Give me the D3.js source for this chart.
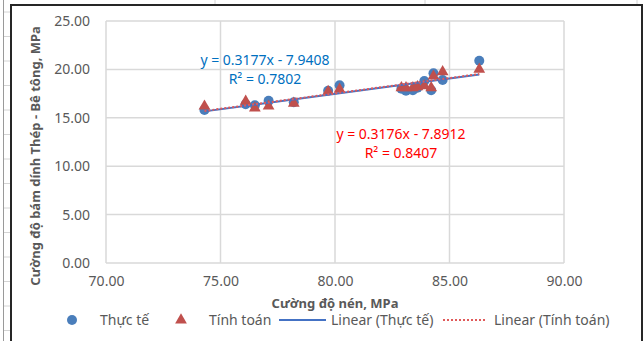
<!DOCTYPE html>
<html>
<head>
<meta charset="utf-8">
<script src="https://cdn.jsdelivr.net/npm/d3@7"></script>
<style>
  body { margin: 0; background: #fff; }
  svg { display: block; font-family: 'Noto Sans', 'Open Sans', sans-serif; }
</style>
</head>
<body>
<div id="chart"></div>
<script>
// compressive strength (x) shared by both series
const cuongDoNen = [74.3, 76.1, 76.5, 77.1, 78.2, 79.7, 80.2, 82.9, 83.1, 83.4, 83.6, 83.9, 84.2, 84.3, 84.7, 86.3];
const thucTe   = [15.8, 16.4, 16.3, 16.75, 16.6, 17.8, 18.35, 18.0, 17.8, 17.85, 18.1, 18.8, 17.85, 19.6, 18.9, 20.9];
const tinhToan = [16.2, 16.7, 16.0, 16.2, 16.5, 17.7, 17.95, 18.1, 18.1, 18.1, 18.2, 18.3, 18.1, 19.3, 19.75, 20.0];

// trendline coefficients shown on the chart [slope, intercept, r2]
const fitThucTe = [0.3177, -7.9408, 0.7802];
const fitTinhToan = [0.3176, -7.8912, 0.8407];

const xTicks = [70, 75, 80, 85, 90];
const yTicks = [0, 5, 10, 15, 20, 25];

const W = 643, H = 341;
const margin = { top: 21, right: 79, bottom: 78, left: 106 };
const width = W - margin.left - margin.right;
const height = H - margin.top - margin.bottom;

const blue = '#4a7ebb', red = '#c0504d', grey = '#595959';

const svg = d3.select('#chart').append('svg')
  .attr('width', W).attr('height', H);

// spreadsheet behind the chart
const sheet = svg.append('g');
[215, 425, 637].forEach(x => sheet.append('line')
  .attr('x1', x).attr('x2', x).attr('y1', 0).attr('y2', 5)
  .attr('stroke', '#d4d4d4'));
sheet.append('line').attr('x1', 3.5).attr('x2', 3.5).attr('y1', 0).attr('y2', H)
  .attr('stroke', '#9a9a9a');
d3.range(12, H, 24.5).forEach(y => sheet.append('line')
  .attr('x1', 4).attr('x2', 10).attr('y1', y).attr('y2', y)
  .attr('stroke', '#d4d4d4'));

// chart border
svg.append('rect')
  .attr('x', 11).attr('y', 5).attr('width', W - 12).attr('height', H)
  .attr('fill', '#fff').attr('stroke', '#262626').attr('stroke-width', 2);

const g = svg.append('g')
  .attr('transform', `translate(${margin.left},${margin.top})`);

const x = d3.scaleLinear().domain([70, 90]).range([0, width]);
const y = d3.scaleLinear().domain([0, 25]).range([height, 0]);

// gridlines
g.append('g')
  .selectAll('line').data(yTicks).enter().append('line')
  .attr('x1', 0).attr('x2', width)
  .attr('y1', d => y(d)).attr('y2', d => y(d))
  .attr('stroke', '#d9d9d9').attr('stroke-width', 1.5);
g.append('g')
  .selectAll('line').data(xTicks).enter().append('line')
  .attr('y1', 0).attr('y2', height)
  .attr('x1', d => x(d)).attr('x2', d => x(d))
  .attr('stroke', '#d9d9d9').attr('stroke-width', 1.5);

// axes (labels only, lines come from the grid)
const xAxis = g.append('g')
  .attr('transform', `translate(0,${height})`)
  .call(d3.axisBottom(x).tickValues(xTicks).tickFormat(d3.format('.2f')).tickSize(0).tickPadding(13));
const yAxis = g.append('g')
  .call(d3.axisLeft(y).tickValues(yTicks).tickFormat(d3.format('.2f')).tickSize(0).tickPadding(16));
[xAxis, yAxis].forEach(a => {
  a.select('.domain').remove();
  a.selectAll('text').attr('fill', grey).style('font-size', '14px').style('font-family', "'Noto Sans', sans-serif");
});

// axis titles
svg.append('text')
  .attr('x', 335).attr('y', 308)
  .attr('text-anchor', 'middle')
  .attr('fill', grey).style('font-size', '13px').style('font-weight', 'bold')
  .text('Cường độ nén, MPa');
svg.append('text')
  .attr('transform', 'translate(40,156) rotate(-90)')
  .attr('text-anchor', 'middle')
  .attr('fill', grey).style('font-size', '13px').style('font-weight', 'bold')
  .text('Cường độ bám dính Thép - Bê tông, MPa');

const ptsThucTe = cuongDoNen.map((c, i) => ({ x: c, y: thucTe[i] }));
const ptsTinhToan = cuongDoNen.map((c, i) => ({ x: c, y: tinhToan[i] }));

const triangle = d3.symbol().type(d3.symbolTriangle).size(60);

// markers
g.selectAll('.dot').data(ptsThucTe).enter().append('circle')
  .attr('class', 'dot')
  .attr('cx', d => x(d.x)).attr('cy', d => y(d.y)).attr('r', 5)
  .attr('fill', blue);

g.selectAll('.tri').data(ptsTinhToan).enter().append('path')
  .attr('class', 'tri')
  .attr('d', triangle)
  .attr('transform', d => `translate(${x(d.x)},${y(d.y)})`)
  .attr('fill', red);

// trendlines
function trend(fit, pts) {
  const ext = d3.extent(pts, d => d.x);
  return ext.map(v => ({ x: v, y: fit[0] * v + fit[1] }));
}
const line = d3.line().x(d => x(d.x)).y(d => y(d.y));

g.append('path').datum(trend(fitThucTe, ptsThucTe))
  .attr('d', line).attr('fill', 'none')
  .attr('stroke', '#4472c4').attr('stroke-width', 2);
g.append('path').datum(trend(fitTinhToan, ptsTinhToan))
  .attr('d', line).attr('fill', 'none')
  .attr('stroke', '#e05a5a').attr('stroke-width', 2).attr('stroke-dasharray', '2,2');

// trend equations
const fmt = d3.format('.4f');
function eqLabel(fit, cx, cy, color) {
  svg.append('text')
    .attr('x', cx).attr('y', cy)
    .attr('text-anchor', 'middle')
    .attr('fill', color).style('font-size', '14px')
    .text(`y = ${fmt(fit[0])}x - ${fmt(-fit[1])}`);
  svg.append('text')
    .attr('x', cx).attr('y', cy + 18.5)
    .attr('text-anchor', 'middle')
    .attr('fill', color).style('font-size', '14px')
    .text(`R² = ${fmt(fit[2])}`);
}
eqLabel(fitThucTe, 265, 65, '#0070c0');
eqLabel(fitTinhToan, 401, 139, '#ff0000');

// legend
const leg = svg.append('g').style('font-size', '14px');
leg.append('circle').attr('cx', 72).attr('cy', 320).attr('r', 5).attr('fill', blue);
leg.append('text').attr('x', 100).attr('y', 325).attr('fill', grey).text('Thực tế');
leg.append('path').attr('d', triangle).attr('transform', 'translate(181,320)').attr('fill', red);
leg.append('text').attr('x', 209).attr('y', 325).attr('fill', grey).text('Tính toán');
leg.append('line').attr('x1', 279).attr('x2', 326).attr('y1', 320).attr('y2', 320)
  .attr('stroke', '#4472c4').attr('stroke-width', 2);
leg.append('text').attr('x', 331).attr('y', 325).attr('fill', grey).text('Linear (Thực tế)');
leg.append('line').attr('x1', 443).attr('x2', 487).attr('y1', 320).attr('y2', 320)
  .attr('stroke', '#e05a5a').attr('stroke-width', 2).attr('stroke-dasharray', '2,2');
leg.append('text').attr('x', 494).attr('y', 325).attr('fill', grey).text('Linear (Tính toán)');
</script>
</body>
</html>
